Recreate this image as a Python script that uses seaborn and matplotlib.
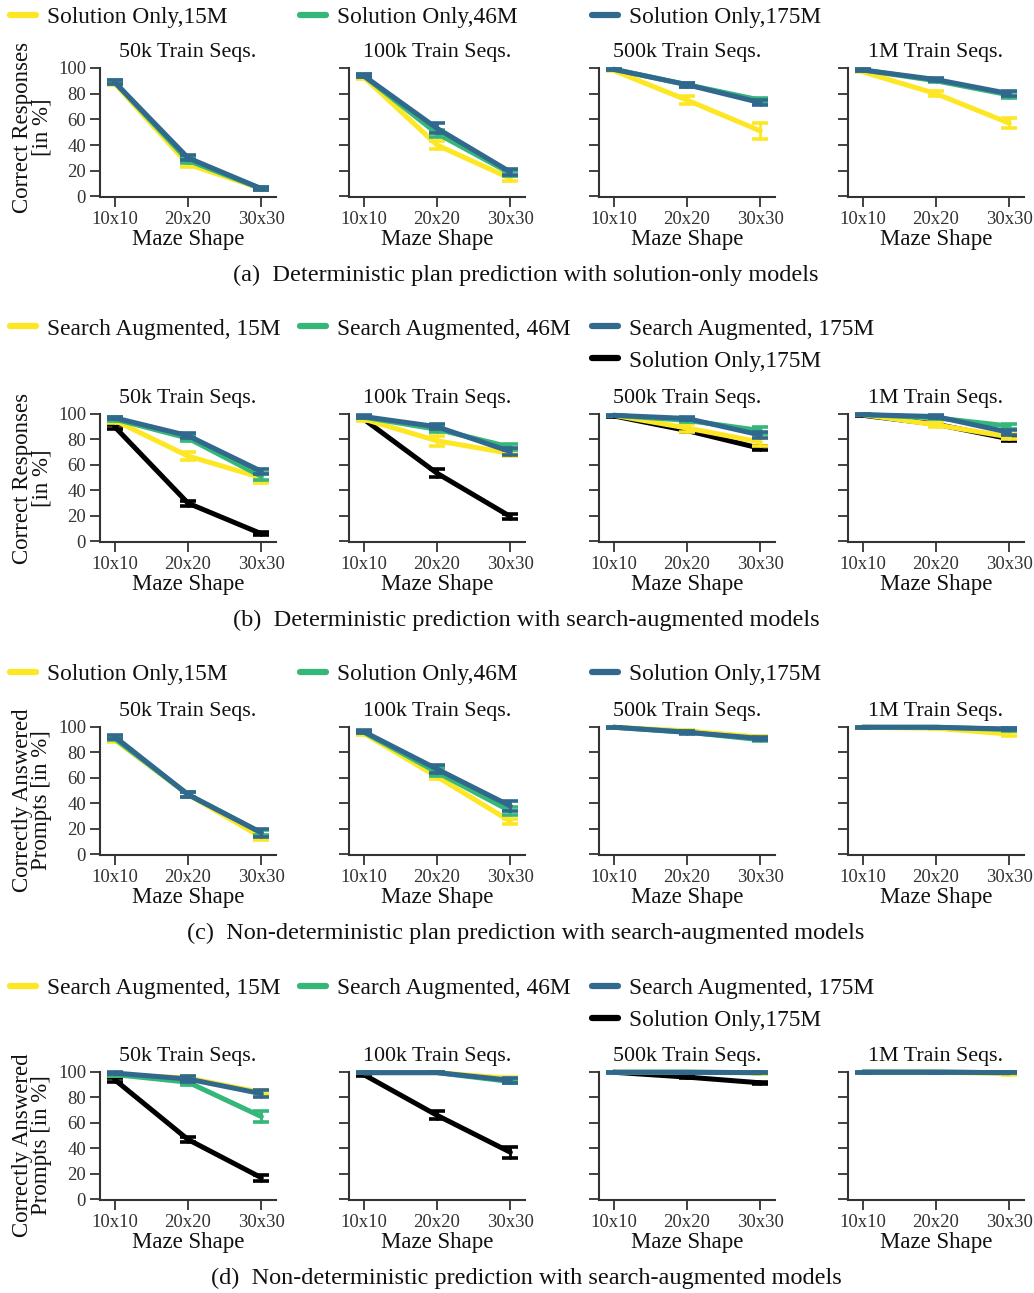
import matplotlib
matplotlib.use("Agg")
import matplotlib.pyplot as plt
import pandas as pd
import seaborn as sns

# ---------------- data ----------------
maze_shapes = ["10x10", "20x20", "30x30"]
train_sizes = ["50k Train Seqs.", "100k Train Seqs.", "500k Train Seqs.", "1M Train Seqs."]

labels_so = ["Solution Only,15M", "Solution Only,46M", "Solution Only,175M"]
labels_sa = ["Search Augmented, 15M", "Search Augmented, 46M", "Search Augmented, 175M"]
label_so175 = "Solution Only,175M"

captions = [
    "(a)  Deterministic plan prediction with solution-only models",
    "(b)  Deterministic prediction with search-augmented models",
    "(c)  Non-deterministic plan prediction with search-augmented models",
    "(d)  Non-deterministic prediction with search-augmented models",
]
ylabels = ["Correct Responses\n[in %]", "Correct Responses\n[in %]",
           "Correctly Answered\nPrompts [in %]", "Correctly Answered\nPrompts [in %]"]

# values indexed [train size][maze shape]; *_err = half width of error bar
# Row (a): deterministic plan prediction, solution-only models
a_so15 = [[88, 25, 6], [93, 40, 14], [98, 75, 51], [97, 80, 57]]
a_so15_err = [[1.5, 2.5, 1], [1.5, 3, 2], [0.5, 3, 6], [0.5, 2, 4]]
a_so46 = [[89, 28, 6], [94, 49, 18], [99, 87, 75], [98.5, 90, 79]]
a_so46_err = [[1.5, 2, 1], [1, 3, 2], [0.5, 1.5, 2], [0.5, 1, 2]]
a_so175 = [[89, 30, 6], [94, 53, 19], [99, 87, 73], [98.5, 91, 80]]
a_so175_err = [[1.5, 2, 1], [1, 4, 2], [0.5, 1.5, 2], [0.5, 1, 2]]

# Row (b): deterministic prediction, search-augmented models
b_sa15 = [[95, 67, 50], [96, 79, 69], [99, 89, 78], [99.5, 91.5, 82]]
b_sa15_err = [[2, 3, 4], [1.5, 4, 2], [0.5, 3, 3], [0.5, 2, 2]]
b_sa46 = [[96, 81, 51], [97.5, 88, 74], [99, 95, 87], [99.5, 97, 90.5]]
b_sa46_err = [[1.5, 2, 3], [1, 2, 2.5], [0.5, 1.5, 2.5], [0.5, 1, 2]]
b_sa175 = [[97, 83, 55], [98, 90, 70.5], [99, 96.5, 83.5], [99.5, 98, 85.5]]
b_sa175_err = [[1, 2, 2], [1, 2, 3], [0.5, 1, 2.5], [0.5, 1, 2]]
b_so175 = [[90, 30, 6], [96, 53.5, 19.5], [98.5, 87, 73], [99, 92, 80.5]]
b_so175_err = [[1.5, 2, 1], [1, 3, 2], [0.5, 1, 1.5], [0.5, 1, 1.5]]

# Row (c): non-deterministic plan prediction
c_so15 = [[90, 47, 13.5], [95, 61, 26], [99.8, 97, 92], [99.8, 99, 94.5]]
c_so15_err = [[1.5, 2, 2], [1, 2, 2], [0.3, 1, 1], [0.3, 0.5, 1.5]]
c_so46 = [[91, 47, 17], [96, 64.5, 34], [99.8, 96, 90], [99.8, 99.8, 98]]
c_so46_err = [[1.5, 2, 2], [1, 3, 3], [0.3, 1, 1], [0.3, 0.3, 1]]
c_so175 = [[92.4, 47, 17], [96.4, 67, 38], [99.8, 95.8, 91], [99.8, 99.8, 98.4]]
c_so175_err = [[1.5, 2, 3], [1, 3, 4], [0.3, 1, 1], [0.3, 0.3, 1]]

# Row (d): non-deterministic prediction, search-augmented models
d_sa15 = [[98, 95.3, 84], [99.5, 99.5, 95], [99.8, 99.8, 99.3], [99.8, 99.8, 98.8]]
d_sa15_err = [[1, 1.5, 1.5], [0.5, 0.5, 1], [0.3, 0.3, 0.5], [0.3, 0.3, 0.8]]
d_sa46 = [[98, 92, 65], [99.5, 99.5, 92.5], [99.8, 99.8, 99.5], [99.8, 99.8, 99.5]]
d_sa46_err = [[1, 2, 4], [0.5, 0.5, 1.5], [0.3, 0.3, 0.5], [0.3, 0.3, 0.5]]
d_sa175 = [[99.2, 94.5, 83], [99.5, 99.5, 93.5], [99.8, 99.8, 99.5], [99.8, 99.8, 99.5]]
d_sa175_err = [[1, 2, 2.5], [0.5, 0.5, 2], [0.3, 0.3, 0.5], [0.3, 0.3, 0.5]]
d_so175 = [[94, 47, 17], [98, 66, 37], [99.8, 96, 91.5], [99.8, 99.8, 99.5]]
d_so175_err = [[1.5, 2, 2.5], [1, 3, 4.5], [0.3, 1, 1], [0.3, 0.3, 0.5]]

# ---------------- styling ----------------
yellow, green, blue, black = "#FDE725", "#35B779", "#31688E", "#000000"

rows = [
    [(labels_so[0], a_so15, a_so15_err, yellow), (labels_so[1], a_so46, a_so46_err, green),
     (labels_so[2], a_so175, a_so175_err, blue)],
    [(label_so175, b_so175, b_so175_err, black), (labels_sa[0], b_sa15, b_sa15_err, yellow),
     (labels_sa[1], b_sa46, b_sa46_err, green), (labels_sa[2], b_sa175, b_sa175_err, blue)],
    [(labels_so[0], c_so15, c_so15_err, yellow), (labels_so[1], c_so46, c_so46_err, green),
     (labels_so[2], c_so175, c_so175_err, blue)],
    [(label_so175, d_so175, d_so175_err, black), (labels_sa[0], d_sa15, d_sa15_err, yellow),
     (labels_sa[1], d_sa46, d_sa46_err, green), (labels_sa[2], d_sa175, d_sa175_err, blue)],
]
legend_order = [
    [labels_so[0], labels_so[1], labels_so[2]],
    [labels_sa[0], labels_sa[1], labels_sa[2], label_so175],
    [labels_so[0], labels_so[1], labels_so[2]],
    [labels_sa[0], labels_sa[1], labels_sa[2], label_so175],
]

sns.set_theme(style="ticks")
plt.rcParams["font.family"] = ["Liberation Serif", "DejaVu Serif"]
plt.rcParams["mathtext.fontset"] = "custom"
plt.rcParams["mathtext.rm"] = "Liberation Serif"
plt.rcParams["axes.edgecolor"] = "#333333"
plt.rcParams["xtick.color"] = "#333333"
plt.rcParams["ytick.color"] = "#333333"
plt.rcParams["text.color"] = "#111111"
plt.rcParams["axes.labelcolor"] = "#111111"

W, H = 1034, 1293
fig = plt.figure(figsize=(W / 100, H / 100), dpi=100)

col_left = [100, 349, 599, 848]
ax_w = 176
row_box = [(68, 197), (414, 542), (727, 855), (1072, 1200)]
caption_y = [275, 620, 933, 1278]
legend_y = [(17,), (329, 361), (674,), (988, 1020)]
legend_x = [10, 300, 592]
ylabel_y = [0.54, 0.5, 0.43, 0.43]

LFS = 16.8   # legend
XFS = 16.5   # axis labels
TTFS = 15.8  # titles
CFS = 17.5   # captions
TFS = 13.5   # ticks


def long_frame(series):
    recs = []
    for label, means, errs, _ in series:
        for ti, t in enumerate(train_sizes):
            for mi, m in enumerate(maze_shapes):
                v, e = means[ti][mi], errs[ti][mi]
                recs.append((label, t, m, v - e))
                recs.append((label, t, m, v + e))
    return pd.DataFrame(recs, columns=["model", "train", "maze", "value"])


for ri, series in enumerate(rows):
    df = long_frame(series)
    hue_order = [s[0] for s in series]
    palette = {s[0]: s[3] for s in series}
    top, bot = row_box[ri]
    handles_map = {}
    for ci, tsize in enumerate(train_sizes):
        ax = fig.add_axes([col_left[ci] / W, 1 - bot / H, ax_w / W, (bot - top) / H])
        sub = df[df["train"] == tsize]
        sns.lineplot(
            data=sub, x="maze", y="value", hue="model", hue_order=hue_order,
            palette=palette, estimator="mean", errorbar=("pi", 100),
            err_style="bars", linewidth=3.6, sort=False,
            err_kws=dict(capsize=5.5, capthick=2.6, elinewidth=2.0),
            legend=(ci == 0), ax=ax,
        )
        if ci == 0:
            hs, ls = ax.get_legend_handles_labels()
            for h, l in zip(hs, ls):
                handles_map[l] = h
            if ax.get_legend() is not None:
                ax.get_legend().remove()
        for ln in ax.lines:
            ln.set_clip_on(False)
        for coll in ax.collections:
            coll.set_clip_on(False)
        ax.set_xlim(-0.2, 2.2)
        ax.set_ylim(-0.5, 100)
        ax.set_yticks([0, 20, 40, 60, 80, 100])
        ax.set_xticks([0, 1, 2])
        ax.set_xticklabels(maze_shapes)
        sns.despine(ax=ax)
        for sp in ("left", "bottom"):
            ax.spines[sp].set_linewidth(1.5)
        ax.tick_params(axis="both", which="major", labelsize=TFS, width=1.3,
                       length=7, pad=3)
        ax.set_xlabel("Maze Shape", fontsize=XFS, labelpad=1)
        ax.set_title(tsize, fontsize=TTFS, pad=8)
        if ci == 0:
            ax.set_ylabel(ylabels[ri], fontsize=XFS, linespacing=0.9)
            ax.yaxis.set_label_coords(-0.27, ylabel_y[ri])
        else:
            ax.set_ylabel("")
            ax.tick_params(labelleft=False)

    # legends, placed like the original fixed-width columns
    order = legend_order[ri]
    for k, lab in enumerate(order):
        h = handles_map[lab]
        h.set_linewidth(4.5)
        col = k if k < 3 else 2
        row = 0 if k < 3 else 1
        y = legend_y[ri][row]
        fig.legend([h], [lab], loc="center left",
                   bbox_to_anchor=(legend_x[col] / W, 1 - y / H),
                   frameon=False, borderpad=0, borderaxespad=0,
                   handlelength=1.1, handletextpad=0.5, fontsize=LFS)

    fig.text(526 / W, 1 - caption_y[ri] / H, captions[ri], ha="center",
             va="center", fontsize=CFS)

fig.savefig("out.png", dpi=100, facecolor="white")
